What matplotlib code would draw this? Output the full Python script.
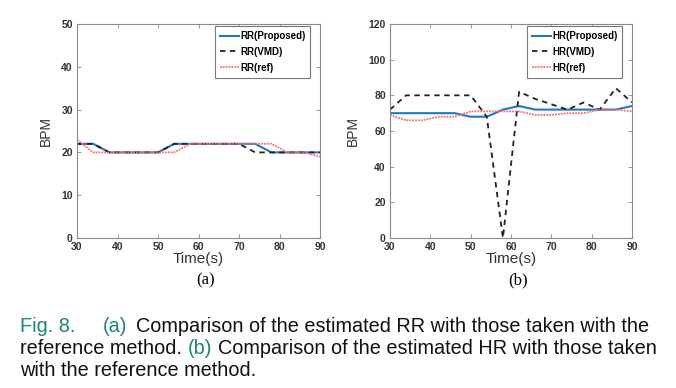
import numpy as np
import matplotlib.pyplot as plt

t = np.arange(30, 91, 4)

rr_proposed = [22, 22, 20, 20, 20, 20, 22, 22, 22, 22, 22, 22, 20, 20, 20, 20]
rr_vmd = [22, 22, 20, 20, 20, 20, 22, 22, 22, 22, 22, 20, 20, 20, 20, 20]
rr_ref = [23, 20, 20, 20, 20, 20, 20, 22, 22, 22, 22, 22, 22, 20, 20, 19]

hr_proposed = [70, 70, 70, 70, 70, 68, 68, 72, 74, 72, 72, 72, 72, 72, 72, 74]
hr_vmd = [72, 80, 80, 80, 80, 80, 68, 0, 82, 78, 75, 72, 76, 72, 84, 76]
hr_ref = [69, 66, 66, 68, 68, 71, 71, 71, 71, 69, 69, 70, 70, 72, 72, 71]

plt.rcParams['font.family'] = ['Liberation Sans', 'DejaVu Sans']

fig = plt.figure(figsize=(6.76, 3.88), dpi=100)
ax1 = fig.add_axes([77 / 676, 1 - 238 / 388, 243 / 676, 214 / 388])
ax2 = fig.add_axes([390 / 676, 1 - 238 / 388, 242 / 676, 214 / 388])

blue = '#1f77c8'
red = '#ff6a6a'

panels = [
    (ax1, 'RR', rr_proposed, rr_vmd, rr_ref, 50, 10, '(a)'),
    (ax2, 'HR', hr_proposed, hr_vmd, hr_ref, 120, 20, '(b)'),
]
for ax, name, prop, vmd, ref, ymax, ystep, tag in panels:
    ax.plot(t, prop, color=blue, lw=1.5, label=name + '(Proposed)')
    ax.plot(t, vmd, color='#222222', lw=1.3, ls=(0, (3, 2.5)), label=name + '(VMD)')
    ax.plot(t, ref, color=red, lw=1.3, ls=(0, (1, 0.6)), label=name + '(ref)')
    ax.set_xlim(30, 90)
    ax.set_ylim(0, ymax)
    ax.set_xticks(np.arange(30, 91, 10))
    ax.set_yticks(np.arange(0, ymax + 1, ystep))
    ax.tick_params(direction='in', top=True, right=True, length=3, width=0.6,
                   colors='#888888', labelcolor='#333333', labelsize=7.5, pad=3)
    for lab in ax.get_xticklabels() + ax.get_yticklabels():
        lab.set_fontweight('bold')
    for s in ax.spines.values():
        s.set_color('#888888')
        s.set_linewidth(0.8)
    ax.set_xlabel('Time(s)', fontsize=11, color='#333333', labelpad=0)
    ax.set_ylabel('BPM', fontsize=10, color='#333333', labelpad=6)
    leg = ax.legend(loc='upper right', bbox_to_anchor=(0.96, 0.99), fancybox=False,
                    edgecolor='#777777', framealpha=1, prop={'weight': 'bold', 'size': 7},
                    handlelength=2.0, handletextpad=0.1, borderpad=0.5, labelspacing=0.6,
                    borderaxespad=0)
    leg.get_frame().set_linewidth(0.8)
    ax.text(0.53, -0.16, tag, transform=ax.transAxes, ha='center', va='top',
            fontsize=12, family='Liberation Serif')

teal = '#1b8577'
black = '#111111'
fs = 14.3
caption = [
    (326, 20, [('Fig. 8.', teal, 27), ('(a)', teal, 9), ('Comparison of the estimated RR with those taken with the', black, 0)]),
    (348, 20, [('reference method.', black, 6), ('(b)', teal, 6), ('Comparison of the estimated HR with those taken', black, 0)]),
    (370, 20, [('with the reference method.', black, 0)]),
]
fig.canvas.draw()
renderer = fig.canvas.get_renderer()
for y, x, parts in caption:
    for txt, col, gap in parts:
        tx = fig.text(x / 676, 1 - y / 388, txt, color=col, fontsize=fs, va='center')
        bb = tx.get_window_extent(renderer)
        x = bb.x1 + gap

fig.savefig('out.png', dpi=100)
